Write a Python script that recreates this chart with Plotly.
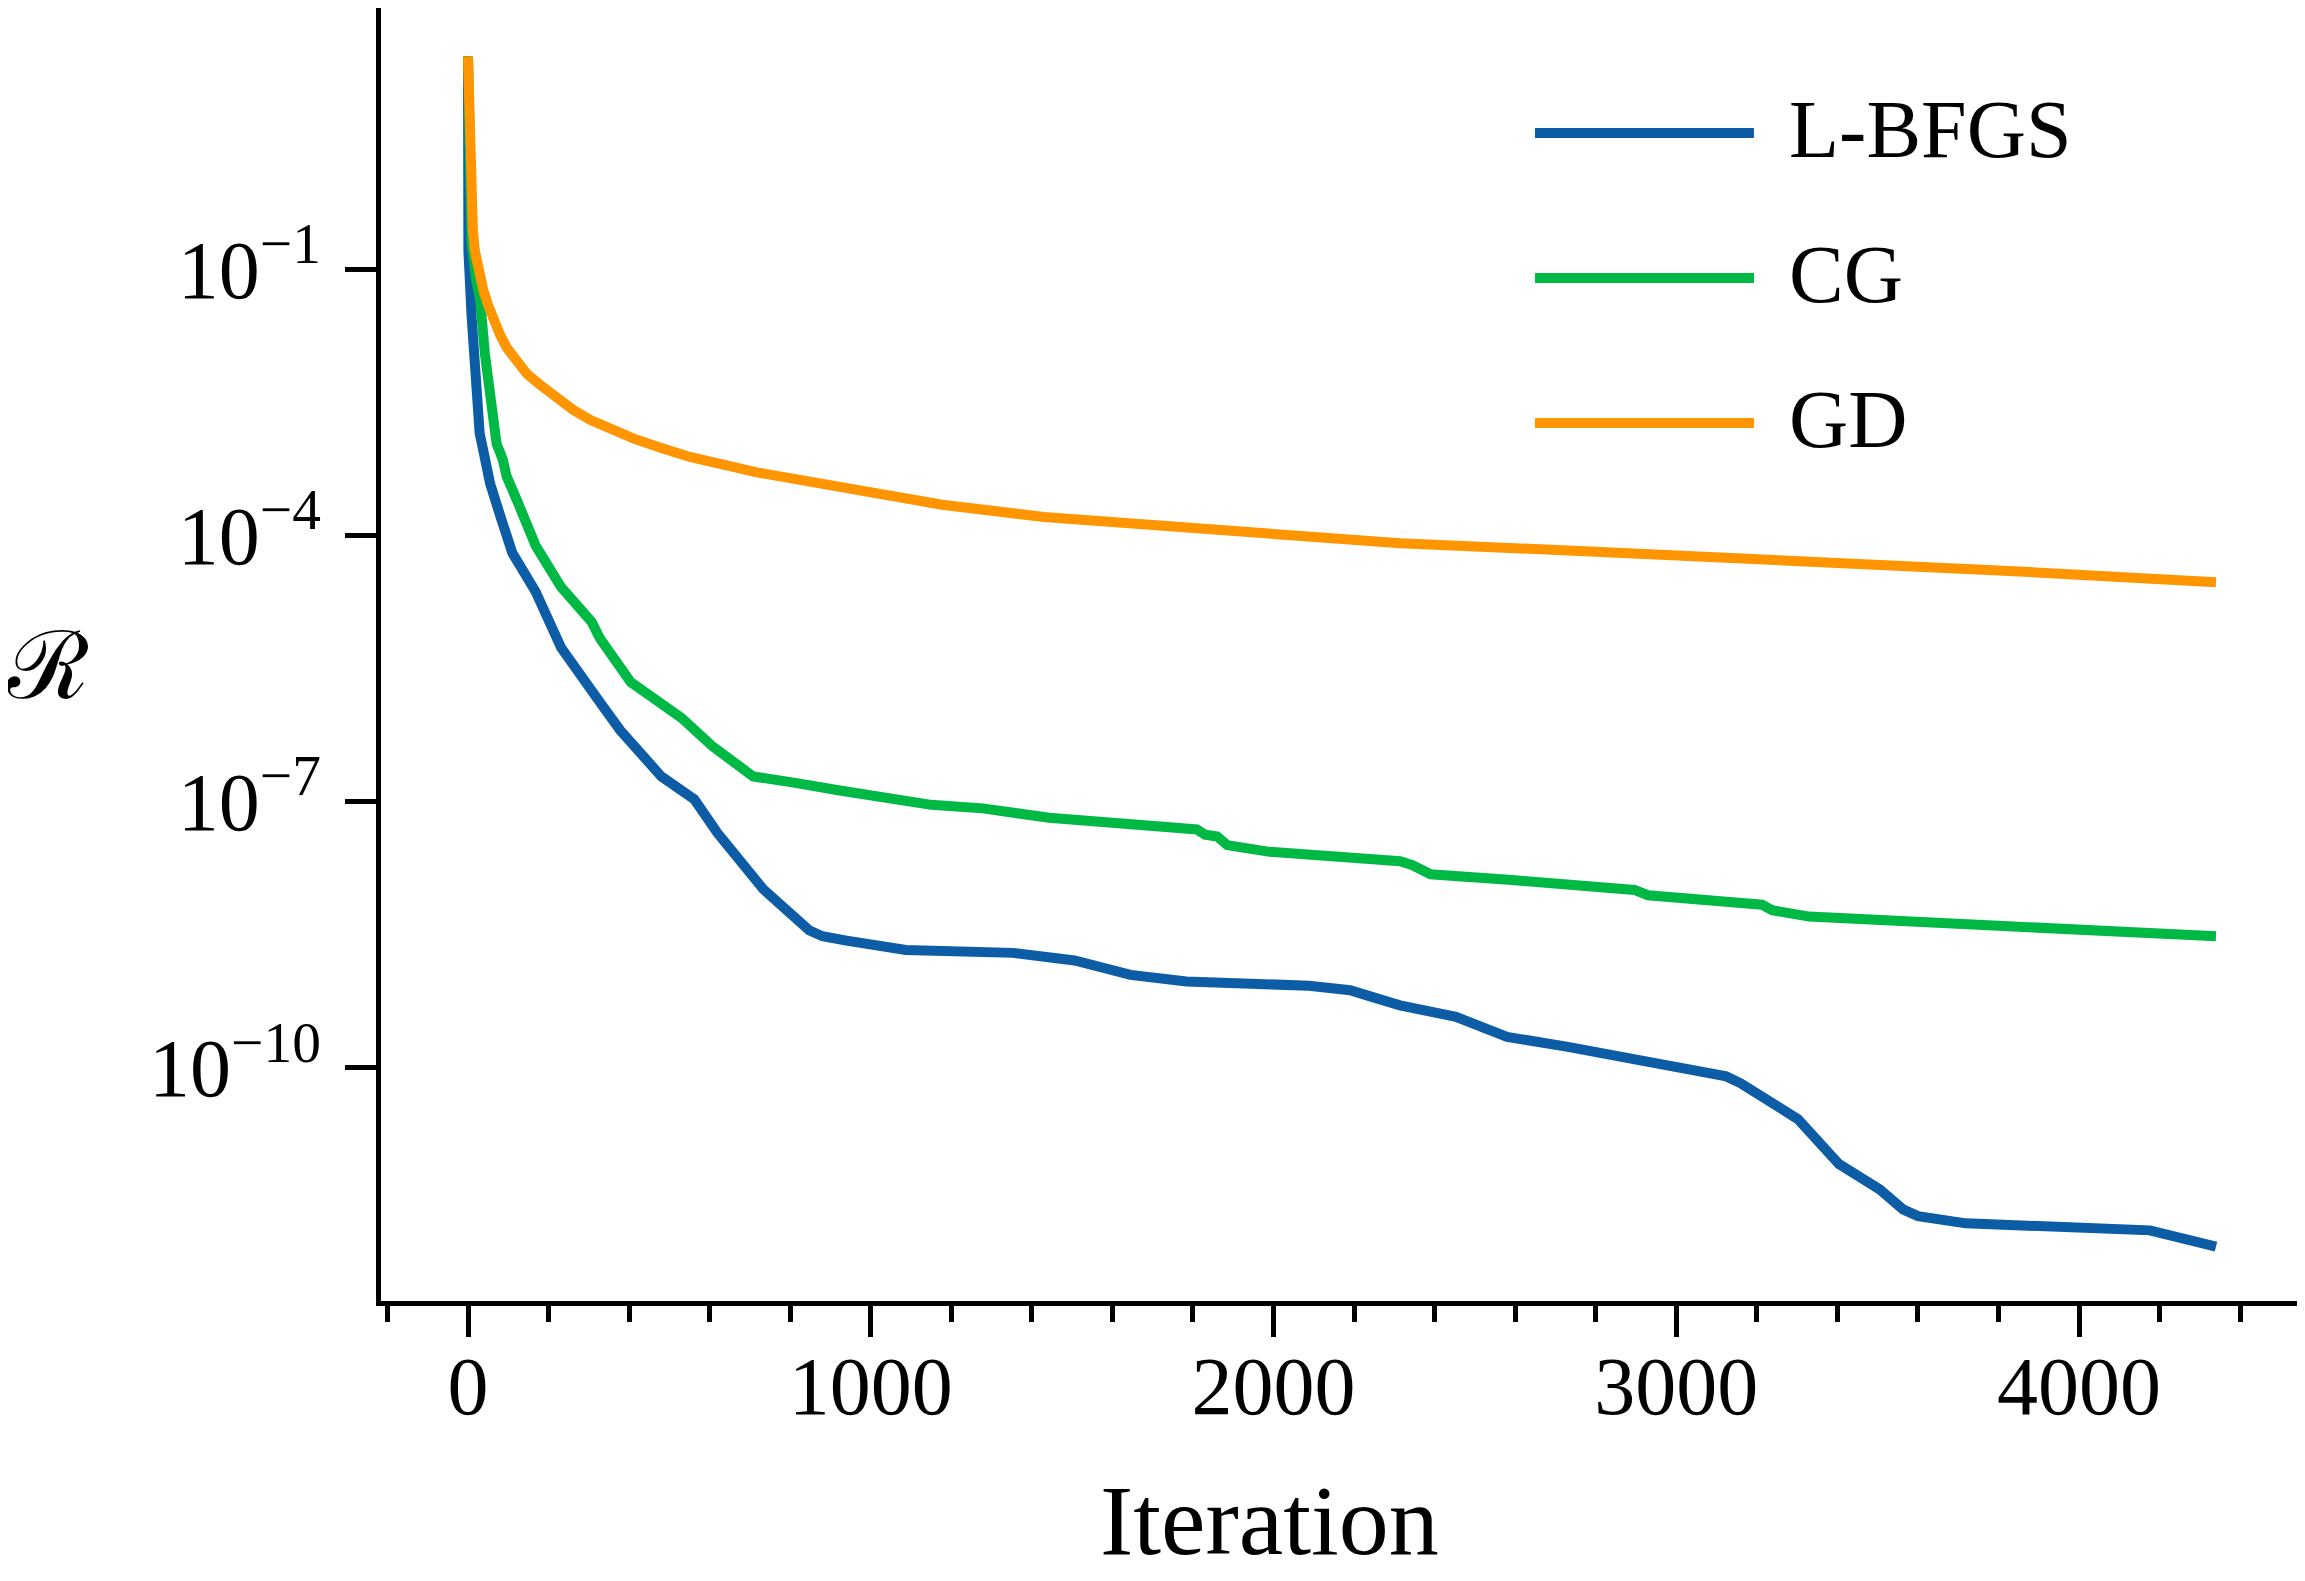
import plotly.graph_objects as go

# residual history (iteration, residual)
lbfgs_iter = [0, 1, 9, 17, 29, 34, 55, 81, 110, 168, 231, 330, 378, 480, 562, 619, 733, 847, 880,
              936, 1087, 1353, 1430, 1506, 1645, 1784, 2088, 2190, 2240, 2314, 2453, 2580, 2731,
              3010, 3124, 3160, 3200, 3302, 3404, 3505, 3563, 3600, 3719, 4176, 4340]
lbfgs_res = [2.5e1, 1.6e-1, 2.9e-2, 5.1e-3, 1.4e-3, 1.1e-3, 3.8e-4, 1.6e-4, 6.3e-5, 2.3e-5, 5.4e-6,
             1.26e-6, 6.3e-7, 1.9e-7, 1.05e-7, 4.4e-8, 1.02e-8, 3.5e-9, 3.0e-9, 2.7e-9, 2.1e-9,
             1.95e-9, 1.8e-9, 1.6e-9, 1.1e-9, 9.3e-10, 8.3e-10, 7.4e-10, 6.3e-10, 5.0e-10, 3.7e-10,
             2.2e-10, 1.7e-10, 1.0e-10, 7.9e-11, 6.6e-11, 5.1e-11, 2.6e-11, 8.1e-12, 4.2e-12,
             2.5e-12, 2.1e-12, 1.74e-12, 1.45e-12, 9.5e-13]

cg_iter = [0, 3, 6, 9, 20, 30, 42, 55, 71, 86, 96, 121, 168, 231, 307, 328, 404, 530, 606, 708,
           760, 809, 923, 1087, 1120, 1150, 1278, 1443, 1810, 1830, 1860, 1885, 1986, 2314, 2345,
           2390, 2592, 2896, 2930, 3098, 3213, 3238, 3302, 3330, 4340]
cg_res = [2.5e1, 3.2, 6.3e-1, 1.95e-1, 7.9e-2, 4.5e-2, 1.1e-2, 3.0e-3, 1.07e-3, 7.2e-4, 4.6e-4,
          2.5e-4, 7.6e-5, 2.6e-5, 1.05e-5, 6.8e-6, 2.2e-6, 8.7e-7, 4.2e-7, 1.9e-7, 1.7e-7, 1.62e-7,
          1.32e-7, 1.05e-7, 1.0e-7, 9.1e-8, 8.3e-8, 6.5e-8, 4.8e-8, 4.2e-8, 4.0e-8, 3.2e-8, 2.7e-8,
          2.1e-8, 1.9e-8, 1.5e-8, 1.29e-8, 1.0e-8, 8.7e-9, 7.4e-9, 6.8e-9, 5.9e-9, 5.5e-9, 5.0e-9,
          3.0e-9]

gd_iter = [0, 3, 5, 8, 12, 17, 25, 38, 50, 63, 80, 96, 120, 146, 180, 220, 260, 303, 350, 410,
           480, 551, 717, 924, 1177, 1430, 1696, 1886, 2100, 2314, 2800, 3327, 3800, 4340]
gd_res = [2.5e1, 4.0, 2.0, 6.3e-1, 2.8e-1, 1.6e-1, 1.0e-1, 5.8e-2, 3.9e-2, 2.7e-2, 1.8e-2, 1.3e-2,
          9.0e-3, 6.6e-3, 4.9e-3, 3.5e-3, 2.6e-3, 2.0e-3, 1.6e-3, 1.23e-3, 9.6e-4, 7.6e-4, 5.1e-4,
          3.4e-4, 2.2e-4, 1.6e-4, 1.29e-4, 1.1e-4, 9.3e-5, 8.1e-5, 6.5e-5, 5.1e-5, 4.0e-5, 2.95e-5]

names = ['L-BFGS', 'CG', 'GD']
colors = ['#0C5DA5', '#00B945', '#FF9500']

x_ticks = [0, 1000, 2000, 3000, 4000]
y_ticks = [1e-1, 1e-4, 1e-7, 1e-10]
y_labels = ['10<sup>−1</sup>', '10<sup>−4</sup>', '10<sup>−7</sup>', '10<sup>−10</sup>']

serif = 'Liberation Serif'

fig = go.Figure()
for it, res, name, col in zip([lbfgs_iter, cg_iter, gd_iter], [lbfgs_res, cg_res, gd_res], names, colors):
    fig.add_trace(go.Scatter(x=it, y=res, mode='lines', name=name,
                             line=dict(color=col, width=10)))

# hand-made legend so the line samples are as long as in the original
for i, (name, col) in enumerate(zip(names, colors)):
    yy = 0.9033 - i * 0.1121
    fig.add_shape(type='line', xref='paper', yref='paper', x0=0.5998, x1=0.7136, y0=yy, y1=yy,
                  line=dict(color=col, width=10))
    fig.add_annotation(text=name, xref='paper', yref='paper', x=0.7308, y=yy + 0.003,
                       xanchor='left', yanchor='middle', showarrow=False,
                       font=dict(family=serif, size=82, color='black'))

fig.add_annotation(text='Iteration', xref='paper', yref='paper', x=0.462, y=-0.125,
                   xanchor='center', yanchor='top', showarrow=False,
                   font=dict(family=serif, size=100, color='black'))
fig.add_annotation(text='ℛ', xref='paper', yref='paper', x=-0.1731, y=0.4916,
                   xanchor='center', yanchor='middle', showarrow=False,
                   font=dict(family='DejaVu Serif', size=94, color='black'))

# page body adds ~8px offset, so the figure is a bit smaller than the window
fig.update_layout(
    width=2297, height=1573,
    margin=dict(l=373, r=0, t=0, b=280),
    paper_bgcolor='white', plot_bgcolor='white',
    showlegend=False,
    xaxis=dict(range=[-216, 4561], showgrid=False, zeroline=False,
               showline=True, linecolor='black', linewidth=4.5,
               ticks='outside', ticklen=31, tickwidth=4.5, tickcolor='black',
               tickvals=x_ticks, ticklabelstandoff=-21,
               tickfont=dict(family=serif, size=82, color='black'),
               minor=dict(dtick=200, tick0=0, ticks='outside', ticklen=16, tickwidth=4.5,
                          tickcolor='black', showgrid=False)),
    yaxis=dict(type='log', range=[-12.635, 1.943], showgrid=False, zeroline=False,
               showline=True, linecolor='black', linewidth=4.5,
               ticks='outside', ticklen=31, tickwidth=4.5, tickcolor='black',
               tickvals=y_ticks, ticktext=y_labels, ticklabelstandoff=8,
               tickfont=dict(family=serif, size=82, color='black')),
)

fig.write_html('out.html')
